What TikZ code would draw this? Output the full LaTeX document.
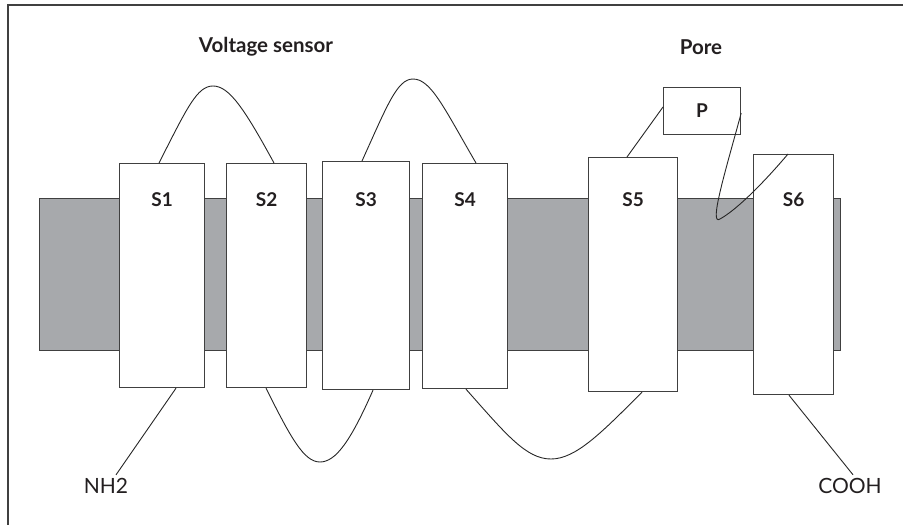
\documentclass[tikz,border=0pt]{standalone}
\usepackage{fontspec}
\setmainfont{Lato}
\usepackage{xcolor}
\usepackage{tikz}
\usetikzlibrary{positioning, calc}

\definecolor{membranegray}{HTML}{A7A9AC}
\definecolor{boxline}{HTML}{404040}
\definecolor{inkdark}{HTML}{231F20}

\tikzset{
    segment/.style={draw=boxline, fill=white, line width=1.2pt, inner sep=0pt, anchor=north west},
    segname/.style={font=\bfseries\fontsize{19}{22}\selectfont, text=inkdark},
    title/.style={font=\bfseries\fontsize{20.5}{24}\selectfont, text=inkdark},
    endname/.style={font=\fontsize{21}{24}\selectfont, text=inkdark},
    chain/.style={draw=black!85, line width=0.9pt},
}

\begin{document}
\begin{tikzpicture}[x=1pt, y=-1pt]
    \useasboundingbox (0,0) rectangle (903,525);

    % Frame
    \draw[boxline, line width=1.2pt] (8,525) -- (8,5) -- (903,5);

    % Membrane
    \node[draw=boxline, fill=membranegray, line width=1.2pt, inner sep=0pt, anchor=north west,
          minimum width=801pt, minimum height=152pt] (membrane) at (39,198) {};

    % Titles
    \node[title] (sensor) at (266,47) {Voltage sensor};
    \node[title] (pore) at (701,47) {Pore};

    % Segments
    \node[segment, minimum width=85pt, minimum height=224pt] (s1) at (119,163) {};
    \node[segment, minimum width=80pt, minimum height=224pt] (s2) at (226,163) {};
    \node[segment, minimum width=87pt, minimum height=228pt] (s3) at (322,161) {};
    \node[segment, minimum width=85pt, minimum height=225pt] (s4) at (422,163) {};
    \node[segment, minimum width=89pt, minimum height=234pt] (s5) at (588,157) {};
    \node[segment, minimum width=77pt, minimum height=47pt] (p) at (663,87) {};

    % Segment names
    \coordinate (namerow) at (0,200);
    \node[segname] (s1name) at (s1 |- namerow) {S1};
    \node[segname] (s2name) at (s2 |- namerow) {S2};
    \node[segname] (s3name) at (s3 |- namerow) {S3};
    \node[segname] (s4name) at (s4 |- namerow) {S4};
    \node[segname] (s5name) at (s5 |- namerow) {S5};
    \node[segname] (pname) at (p) {P};

    % Ends
    \node[endname] (nh) at (106,486) {NH2};
    \node[endname] (cooh) at (850,486) {COOH};

    % Loop points
    \coordinate (s1top) at ($(s1.north west)+(40,0)$);
    \coordinate (s2top) at ($(s2.north west)+(48,0)$);
    \coordinate (s3top) at ($(s3.north west)+(40,0)$);
    \coordinate (s4top) at ($(s4.north west)+(54,0)$);
    \coordinate (s5top) at ($(s5.north west)+(39,0)$);
    \coordinate (s1bot) at ($(s1.south west)+(57,0)$);
    \coordinate (s2bot) at ($(s2.south west)+(40,0)$);
    \coordinate (s3bot) at ($(s3.south west)+(51,0)$);
    \coordinate (s4bot) at ($(s4.south west)+(44,0)$);
    \coordinate (s5bot) at ($(s5.south west)+(54,0)$);
    \coordinate (top12) at (213,86);
    \coordinate (top34) at (413,79);
    \coordinate (bot23) at (320,462);
    \coordinate (bot45) at (551,459);
    \coordinate (pout) at ($(p.north east)+(0,26)$);
    \coordinate (turn) at (720,219);

    % Loops
    \draw[chain] (s1bot) -- (nh.north -| 116,0);
    \draw[chain] (s1top) .. controls +(28,-55) and +(-16,0) .. (top12)
                         .. controls +(16,0) and +(-30,-55) .. (s2top);
    \draw[chain] (s2bot) .. controls +(25,50) and +(-16,0) .. (bot23)
                         .. controls +(16,0) and +(-22,50) .. (s3bot);
    \draw[chain] (s3top) .. controls +(25,-55) and +(-16,0) .. (top34)
                         .. controls +(18,0) and +(-32,-55) .. (s4top);
    \draw[chain] (s4bot) .. controls +(40,45) and +(-25,0) .. (bot45)
                         .. controls +(25,0) and +(-40,40) .. (s5bot);
    \draw[chain] (s5top) -- ($(p.north west)+(0,20)$);

    % S6 sits over the pore loop
    \node[segment, minimum width=80pt, minimum height=240pt] (s6) at (753,154) {};
    \node[segname] (s6name) at (s6 |- namerow) {S6};
    \coordinate (s6top) at ($(s6.north west)+(35,0)$);
    \coordinate (s6bot) at ($(s6.south west)+(36,0)$);
    \draw[chain] (pout) .. controls +(-14,52) and +(-12,8) .. (turn)
                        .. controls +(18,-10) and +(-22,26) .. (s6top);
    \draw[chain] (s6bot) -- (cooh.north -| 853,0);
\end{tikzpicture}
\end{document}
